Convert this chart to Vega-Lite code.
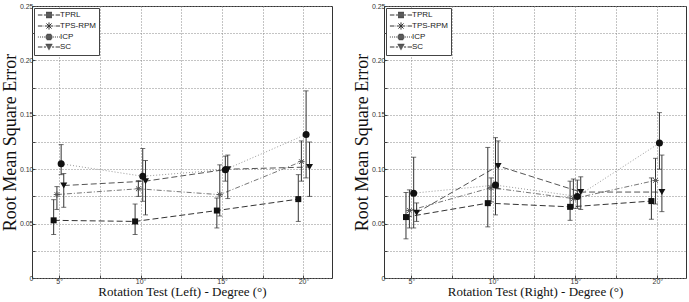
{
  "$schema": "https://vega.github.io/schema/vega-lite/v6.json",
  "background": "white",
  "padding": {"left": 0, "top": 1, "right": 0, "bottom": 0},
  "spacing": 19,
  "config": {
    "view": {"stroke": "#333", "strokeWidth": 1},
    "axis": {
      "labelFont": "Liberation Sans", "labelFontSize": 7, "labelColor": "#333",
      "titleFont": "Liberation Serif", "titleFontWeight": "normal", "titleColor": "#111",
      "domain": false, "grid": true, "gridColor": "#888", "gridDash": [1, 2], "gridWidth": 1,
      "ticks": true, "tickColor": "#444", "tickSize": -3
    },
    "axisX": {"labelPadding": 2, "titlePadding": 1, "titleFontSize": 13},
    "axisY": {"labelPadding": 2, "titlePadding": 0, "titleFontSize": 18},
    "legend": {
      "orient": "top-left", "offset": 2, "padding": 3, "strokeColor": "#444", "fillColor": "white",
      "labelFont": "Liberation Sans", "labelFontSize": 8, "labelColor": "#222",
      "symbolSize": 36, "symbolOffset": 8, "labelOffset": 7, "rowPadding": 0,
      "symbolStrokeWidth": 1, "symbolOpacity": 1, "symbolFillColor": "#111", "symbolStrokeColor": "#333"
    }
  },
  "datasets": {
    "left": [
      {"m": "TPRL", "x": 4.66, "v": 0.053, "lo": 0.040, "hi": 0.072},
      {"m": "TPRL", "x": 9.66, "v": 0.052, "lo": 0.040, "hi": 0.068},
      {"m": "TPRL", "x": 14.68, "v": 0.062, "lo": 0.046, "hi": 0.0735},
      {"m": "TPRL", "x": 19.68, "v": 0.0725, "lo": 0.052, "hi": 0.095},
      {"m": "TPS-RPM", "x": 4.86, "v": 0.0767, "lo": 0.063, "hi": 0.084},
      {"m": "TPS-RPM", "x": 9.86, "v": 0.082, "lo": 0.075, "hi": 0.0895},
      {"m": "TPS-RPM", "x": 14.86, "v": 0.0766, "lo": 0.057, "hi": 0.104},
      {"m": "TPS-RPM", "x": 19.87, "v": 0.107, "lo": 0.089, "hi": 0.126},
      {"m": "ICP", "x": 5.12, "v": 0.105, "lo": 0.095, "hi": 0.1226},
      {"m": "ICP", "x": 10.13, "v": 0.0935, "lo": 0.0705, "hi": 0.119},
      {"m": "ICP", "x": 15.2, "v": 0.0996, "lo": 0.089, "hi": 0.112},
      {"m": "ICP", "x": 20.16, "v": 0.132, "lo": 0.092, "hi": 0.172},
      {"m": "SC", "x": 5.28, "v": 0.085, "lo": 0.065, "hi": 0.096},
      {"m": "SC", "x": 10.3, "v": 0.089, "lo": 0.058, "hi": 0.108},
      {"m": "SC", "x": 15.35, "v": 0.100, "lo": 0.073, "hi": 0.113},
      {"m": "SC", "x": 20.37, "v": 0.102, "lo": 0.075, "hi": 0.125}
    ],
    "right": [
      {"m": "TPRL", "x": 4.67, "v": 0.056, "lo": 0.036, "hi": 0.0786},
      {"m": "TPRL", "x": 9.66, "v": 0.0688, "lo": 0.047, "hi": 0.120},
      {"m": "TPRL", "x": 14.68, "v": 0.0654, "lo": 0.053, "hi": 0.089},
      {"m": "TPRL", "x": 19.64, "v": 0.0707, "lo": 0.054, "hi": 0.092},
      {"m": "TPS-RPM", "x": 4.88, "v": 0.062, "lo": 0.046, "hi": 0.081},
      {"m": "TPS-RPM", "x": 9.86, "v": 0.083, "lo": 0.070, "hi": 0.092},
      {"m": "TPS-RPM", "x": 14.88, "v": 0.073, "lo": 0.064, "hi": 0.091},
      {"m": "TPS-RPM", "x": 19.89, "v": 0.0897, "lo": 0.068, "hi": 0.110},
      {"m": "ICP", "x": 5.14, "v": 0.078, "lo": 0.046, "hi": 0.111},
      {"m": "ICP", "x": 10.13, "v": 0.0854, "lo": 0.058, "hi": 0.129},
      {"m": "ICP", "x": 15.12, "v": 0.075, "lo": 0.064, "hi": 0.090},
      {"m": "ICP", "x": 20.13, "v": 0.124, "lo": 0.100, "hi": 0.152},
      {"m": "SC", "x": 5.32, "v": 0.060, "lo": 0.052, "hi": 0.069},
      {"m": "SC", "x": 10.29, "v": 0.103, "lo": 0.082, "hi": 0.126},
      {"m": "SC", "x": 15.33, "v": 0.079, "lo": 0.063, "hi": 0.093},
      {"m": "SC", "x": 20.28, "v": 0.079, "lo": 0.061, "hi": 0.113}
    ]
  },
  "resolve": {"scale": {"shape": "independent", "x": "independent", "y": "independent"}, "legend": {"shape": "independent"}},
  "hconcat": [
    {
      "width": 300, "height": 272,
      "data": {"name": "left"},
      "encoding": {
        "x": {"field": "x", "type": "quantitative", "scale": {"domain": [3.33, 21.75], "nice": false, "zero": false},
          "axis": {"values": [5, 7.5, 10, 12.5, 15, 17.5, 20], "labelExpr": "datum.value % 5 == 0 ? datum.value + '°' : ''", "title": "Rotation Test (Left) - Degree (°)"}},
        "y": {"field": "v", "type": "quantitative", "scale": {"domain": [0, 0.25], "nice": false},
          "axis": {"values": [0, 0.025, 0.05, 0.075, 0.1, 0.125, 0.15, 0.175, 0.2, 0.225, 0.25], "labelExpr": "datum.value == 0 ? '0' : (round(datum.value * 1000) % 50 == 0 ? format(datum.value, '.2f') : '')", "title": "Root Mean Square Error"}}
      },
      "layer": [
        {
          "mark": {"type": "line", "strokeWidth": 1},
          "encoding": {
            "color": {"field": "m", "type": "nominal", "legend": null, "scale": {"domain": ["TPRL", "TPS-RPM", "ICP", "SC"], "range": ["#333", "#777", "#999", "#555"]}},
            "strokeDash": {"field": "m", "type": "nominal", "legend": null, "scale": {"domain": ["TPRL", "TPS-RPM", "ICP", "SC"], "range": [[6, 3], [5, 2, 1, 2], [1, 2], [6, 3]]}}
          }
        },
        {"mark": {"type": "rule", "color": "#333", "strokeWidth": 1}, "encoding": {"y": {"field": "lo", "type": "quantitative"}, "y2": {"field": "hi"}}},
        {"mark": {"type": "tick", "orient": "horizontal", "color": "#333", "size": 5, "thickness": 1}, "encoding": {"y": {"field": "lo", "type": "quantitative"}}},
        {"mark": {"type": "tick", "orient": "horizontal", "color": "#333", "size": 5, "thickness": 1}, "encoding": {"y": {"field": "hi", "type": "quantitative"}}},
        {"transform": [{"filter": "datum.m == 'TPRL'"}], "mark": {"type": "point", "shape": "square", "filled": true, "size": 36, "color": "#111", "opacity": 1}, "encoding": {}},
        {"transform": [{"filter": "datum.m == 'TPS-RPM'"}], "mark": {"type": "point", "shape": "M-1,0H1M0,-1V1M-0.75,-0.75L0.75,0.75M-0.75,0.75L0.75,-0.75", "filled": false, "size": 40, "color": "#555", "strokeWidth": 1, "opacity": 1}, "encoding": {}},
        {"transform": [{"filter": "datum.m == 'ICP'"}], "mark": {"type": "point", "shape": "circle", "filled": true, "size": 49, "color": "#111", "opacity": 1}, "encoding": {}},
        {"transform": [{"filter": "datum.m == 'SC'"}], "mark": {"type": "point", "shape": "triangle-down", "filled": true, "size": 49, "color": "#111", "opacity": 1}, "encoding": {}},
        {
          "mark": {"type": "point", "filled": false, "opacity": 0, "color": "#111", "strokeWidth": 1},
          "encoding": {
            "shape": {"field": "m", "type": "nominal",
              "legend": {"title": null, "symbolOpacity": 1, "encode": {
                "symbols": {"update": {"stroke": {"value": "#111"}, "strokeWidth": {"value": 1.2}, "opacity": {"value": 1}}},
                "labels": {"update": {"fill": {"value": "#222"}}}}},
              "scale": {"domain": ["TPRL", "TPS-RPM", "ICP", "SC"], "range": [
                "M-3.7,0H-2.2M-1.7,0H-1M1,0H1.7M2.2,0H3.7M-1,-0.9H1M-1,-0.6H1M-1,-0.3H1M-1,0H1M-1,0.3H1M-1,0.6H1M-1,0.9H1",
                "M-3.7,0H-2.2M-1.8,0H-1.6M-1.3,0H-1.1M1.1,0H1.3M1.6,0H1.8M2.2,0H3.7M-1.2,0H1.2M0,-1.2V1.2M-0.85,-0.85L0.85,0.85M-0.85,0.85L0.85,-0.85",
                "M-3.7,0H-3.4M-3,0H-2.7M-2.3,0H-2M-1.7,0H-1.4M1.4,0H1.7M2,0H2.3M2.7,0H3M3.4,0H3.7M-0.72,-0.9H0.72M-0.98,-0.6H0.98M-1.11,-0.3H1.11M-1.15,0H1.15M-1.11,0.3H1.11M-0.98,0.6H0.98M-0.72,0.9H0.72",
                "M-3.7,0H-2.2M-1.7,0H-1M1,0H1.7M2.2,0H3.7M-1.14,-0.9H1.14M-0.97,-0.6H0.97M-0.8,-0.3H0.8M-0.63,0H0.63M-0.46,0.3H0.46M-0.29,0.6H0.29M-0.11,0.9H0.11"]}}
          }
        }
      ]
    },
    {
      "width": 302, "height": 272,
      "data": {"name": "right"},
      "encoding": {
        "x": {"field": "x", "type": "quantitative", "scale": {"domain": [3.33, 21.75], "nice": false, "zero": false},
          "axis": {"values": [5, 7.5, 10, 12.5, 15, 17.5, 20], "labelExpr": "datum.value % 5 == 0 ? datum.value + '°' : ''", "title": "Rotation Test (Right) - Degree (°)"}},
        "y": {"field": "v", "type": "quantitative", "scale": {"domain": [0, 0.25], "nice": false},
          "axis": {"values": [0, 0.025, 0.05, 0.075, 0.1, 0.125, 0.15, 0.175, 0.2, 0.225, 0.25], "labelExpr": "datum.value == 0 ? '0' : (round(datum.value * 1000) % 50 == 0 ? format(datum.value, '.2f') : '')", "title": "Root Mean Square Error"}}
      },
      "layer": [
        {
          "mark": {"type": "line", "strokeWidth": 1},
          "encoding": {
            "color": {"field": "m", "type": "nominal", "legend": null, "scale": {"domain": ["TPRL", "TPS-RPM", "ICP", "SC"], "range": ["#333", "#777", "#999", "#555"]}},
            "strokeDash": {"field": "m", "type": "nominal", "legend": null, "scale": {"domain": ["TPRL", "TPS-RPM", "ICP", "SC"], "range": [[6, 3], [5, 2, 1, 2], [1, 2], [6, 3]]}}
          }
        },
        {"mark": {"type": "rule", "color": "#333", "strokeWidth": 1}, "encoding": {"y": {"field": "lo", "type": "quantitative"}, "y2": {"field": "hi"}}},
        {"mark": {"type": "tick", "orient": "horizontal", "color": "#333", "size": 5, "thickness": 1}, "encoding": {"y": {"field": "lo", "type": "quantitative"}}},
        {"mark": {"type": "tick", "orient": "horizontal", "color": "#333", "size": 5, "thickness": 1}, "encoding": {"y": {"field": "hi", "type": "quantitative"}}},
        {"transform": [{"filter": "datum.m == 'TPRL'"}], "mark": {"type": "point", "shape": "square", "filled": true, "size": 36, "color": "#111", "opacity": 1}, "encoding": {}},
        {"transform": [{"filter": "datum.m == 'TPS-RPM'"}], "mark": {"type": "point", "shape": "M-1,0H1M0,-1V1M-0.75,-0.75L0.75,0.75M-0.75,0.75L0.75,-0.75", "filled": false, "size": 40, "color": "#555", "strokeWidth": 1, "opacity": 1}, "encoding": {}},
        {"transform": [{"filter": "datum.m == 'ICP'"}], "mark": {"type": "point", "shape": "circle", "filled": true, "size": 49, "color": "#111", "opacity": 1}, "encoding": {}},
        {"transform": [{"filter": "datum.m == 'SC'"}], "mark": {"type": "point", "shape": "triangle-down", "filled": true, "size": 49, "color": "#111", "opacity": 1}, "encoding": {}},
        {
          "mark": {"type": "point", "filled": false, "opacity": 0, "color": "#111", "strokeWidth": 1},
          "encoding": {
            "shape": {"field": "m", "type": "nominal",
              "legend": {"title": null, "symbolOpacity": 1, "encode": {
                "symbols": {"update": {"stroke": {"value": "#111"}, "strokeWidth": {"value": 1.2}, "opacity": {"value": 1}}},
                "labels": {"update": {"fill": {"value": "#222"}}}}},
              "scale": {"domain": ["TPRL", "TPS-RPM", "ICP", "SC"], "range": [
                "M-3.7,0H-2.2M-1.7,0H-1M1,0H1.7M2.2,0H3.7M-1,-0.9H1M-1,-0.6H1M-1,-0.3H1M-1,0H1M-1,0.3H1M-1,0.6H1M-1,0.9H1",
                "M-3.7,0H-2.2M-1.8,0H-1.6M-1.3,0H-1.1M1.1,0H1.3M1.6,0H1.8M2.2,0H3.7M-1.2,0H1.2M0,-1.2V1.2M-0.85,-0.85L0.85,0.85M-0.85,0.85L0.85,-0.85",
                "M-3.7,0H-3.4M-3,0H-2.7M-2.3,0H-2M-1.7,0H-1.4M1.4,0H1.7M2,0H2.3M2.7,0H3M3.4,0H3.7M-0.72,-0.9H0.72M-0.98,-0.6H0.98M-1.11,-0.3H1.11M-1.15,0H1.15M-1.11,0.3H1.11M-0.98,0.6H0.98M-0.72,0.9H0.72",
                "M-3.7,0H-2.2M-1.7,0H-1M1,0H1.7M2.2,0H3.7M-1.14,-0.9H1.14M-0.97,-0.6H0.97M-0.8,-0.3H0.8M-0.63,0H0.63M-0.46,0.3H0.46M-0.29,0.6H0.29M-0.11,0.9H0.11"]}}
          }
        }
      ]
    }
  ]
}
